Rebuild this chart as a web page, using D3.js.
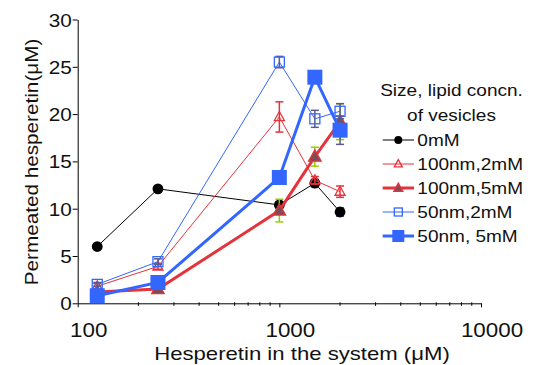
<!DOCTYPE html>
<html><head><meta charset="utf-8">
<script src="https://cdn.jsdelivr.net/npm/d3@7"></script>
<style>body{margin:0;background:#fff}svg{display:block}text{font-family:"Liberation Sans",Arial,sans-serif;fill:#111}</style>
</head><body><svg id="c" width="534" height="365"></svg>
<script>
const xVals = [125, 250, 1000, 1500, 2000];
const seriesNames = ["0mM", "100nm,2mM", "100nm,5mM", "50nm,2mM", "50nm, 5mM"];
const v0mM = [6.0, 12.1, 10.4, 12.7, 9.65];
const v100nm2mM = [1.8, 3.9, 19.7, 13.0, 11.8];
const v100nm5mM = [1.2, 1.5, 9.8, 15.5, 19.2];
const v50nm2mM = [2.0, 4.4, 25.5, 19.5, 20.3];
const v50nm5mM = [0.8, 2.2, 13.3, 23.9, 18.3];
const e0mM = [0, 0, 0.3, 0.4, 0.45];
const e100nm2mM = [0.3, 0.3, 1.6, 0.4, 0.6];
const e100nm5mM = [0.2, 0.2, 1.2, 1.0, 1.9];
const e50nm2mM = [0.2, 0.3, 0.6, 0.9, 0.8];
const e50nm5mM = [0, 0.1, 0, 0, 1.5];
const yTicks = [0, 5, 10, 15, 20, 25, 30];
const xTicks = [100, 1000, 10000];
const xMinor = [200,300,400,500,600,700,800,900,2000,3000,4000,5000,6000,7000,8000,9000];
const xTitle = "Hesperetin in the system (\u03bcM)";
const yTitle = "Permeated hesperetin(\u03bcM)";
const legendTitle = ["Size, lipid concn.", "of vesicles"];

const RED = "#e5333b", BLUE = "#3366ff", SLATE = "#5a5a8c", GREEN = "#99cc00", DARK = "#7d4c56";
const SX = 1.12;
const svg = d3.select("#c");
const x = d3.scaleLog().domain([100, 10000]).range([77.7, 481]);
const y = d3.scaleLinear().domain([0, 30]).range([303.3, 19.5]);

function txt(px, py, s, size, anchor, sx) {
  return svg.append("text").attr("transform", `translate(${px},${py}) scale(${sx || SX},1)`)
    .attr("text-anchor", anchor).style("font-size", size + "px").text(s);
}

// Y axis
const ya = svg.append("g").attr("transform", `translate(${x(100)},0)`)
  .call(d3.axisLeft(y).tickValues(yTicks).tickSize(5).tickPadding(2).tickSizeOuter(0));
ya.select(".domain").attr("stroke", "#000");
ya.selectAll(".tick line").attr("stroke", "#000");
ya.selectAll(".tick text").remove();
yTicks.forEach(t => txt(x(100) - 6, y(t) + 7, String(t), 18.5, "end"));

// X axis
const xa = svg.append("g").attr("transform", `translate(0,${y(0)})`)
  .call(d3.axisBottom(x).tickValues(xTicks).tickSize(4).tickSizeOuter(0).tickFormat(""));
xa.select(".domain").attr("stroke", "#000");
xa.selectAll(".tick line").attr("stroke", "#000");
xa.selectAll(".minor").data(xMinor).enter().append("line").attr("class", "minor")
  .attr("x1", d => x(d)).attr("x2", d => x(d)).attr("y1", -1).attr("y2", 2.5).attr("stroke", "#000");
xTicks.forEach(t => txt(x(t) + 11, y(0) + 33.5, String(t), 20, "middle"));

txt(302, 360, xTitle, 18.6, "middle", 1.19);
svg.append("text").attr("transform", `translate(38,162) rotate(-90) scale(${SX},1)`)
  .attr("text-anchor", "middle").style("font-size", "18.5px").text(yTitle);

// Series definitions
const series = [
  {name: seriesNames[0], v: v0mM, e: e0mM, color: "#000", lw: 1, ecol: SLATE, shape: "circle", fill: "#000", size: 5.4, lsize: 4},
  {name: seriesNames[1], v: v100nm2mM, e: e100nm2mM, color: RED, lw: 1, ecol: RED, shape: "tri", fill: "none", size: 10, lsize: 8},
  {name: seriesNames[2], v: v100nm5mM, e: e100nm5mM, color: RED, lw: 3, ecol: GREEN, shape: "tri", fill: DARK, size: 12.5, lsize: 9},
  {name: seriesNames[3], v: v50nm2mM, e: e50nm2mM, color: BLUE, lw: 1, ecol: SLATE, shape: "sq", fill: "none", size: 10, lsize: 8},
  {name: seriesNames[4], v: v50nm5mM, e: e50nm5mM, color: BLUE, lw: 3, ecol: SLATE, shape: "sq", fill: BLUE, size: 15, lsize: 12}
];

function marker(g, s, cx, cy, size) {
  if (s.shape === "circle") {
    g.append("circle").attr("cx", cx).attr("cy", cy).attr("r", size).attr("fill", "#000");
  } else if (s.shape === "sq") {
    g.append("rect").attr("x", cx - size/2).attr("y", cy - size/2).attr("width", size).attr("height", size)
      .attr("fill", s.fill).attr("stroke", s.color).attr("stroke-width", s.fill === "none" ? 1.3 : 0);
  } else {
    const h = size * 0.9;
    g.append("path").attr("d", `M${cx},${cy - h*0.6}L${cx + size/2},${cy + h*0.4}L${cx - size/2},${cy + h*0.4}Z`)
      .attr("fill", s.fill).attr("stroke", s.color).attr("stroke-width", 1.3);
  }
}

const line = d3.line().x(d => x(d[0])).y(d => y(d[1]));
series.forEach(s => {
  const g = svg.append("g");
  const pts = xVals.map((xv, i) => [xv, s.v[i]]);
  g.append("path").attr("d", line(pts)).attr("fill", "none").attr("stroke", s.color).attr("stroke-width", s.lw);
  pts.forEach((p, i) => {
    const err = s.e[i];
    if (err > 0) {
      const cx = x(p[0]);
      g.append("line").attr("x1", cx).attr("x2", cx).attr("y1", y(p[1] - err)).attr("y2", y(p[1] + err))
        .attr("stroke", s.ecol).attr("stroke-width", 1.5);
      [p[1] - err, p[1] + err].forEach(yy =>
        g.append("line").attr("x1", cx - 4).attr("x2", cx + 4).attr("y1", y(yy)).attr("y2", y(yy))
          .attr("stroke", s.ecol).attr("stroke-width", 1.5));
    }
  });
  pts.forEach(p => marker(g, s, x(p[0]), y(p[1]), s.size));
});

// Legend
txt(451.5, 96, legendTitle[0], 17, "middle");
txt(451.5, 121, legendTitle[1], 17, "middle");
series.forEach((s, i) => {
  const cy = 140 + i * 24;
  const g = svg.append("g");
  g.append("line").attr("x1", 382.7).attr("x2", 414).attr("y1", cy).attr("y2", cy)
    .attr("stroke", s.color).attr("stroke-width", s.lw === 1 ? 1 : 3);
  marker(g, s, 398.3, cy, s.lsize);
  txt(417.3, cy + 6, s.name, 17, "start");
});
</script></body></html>
